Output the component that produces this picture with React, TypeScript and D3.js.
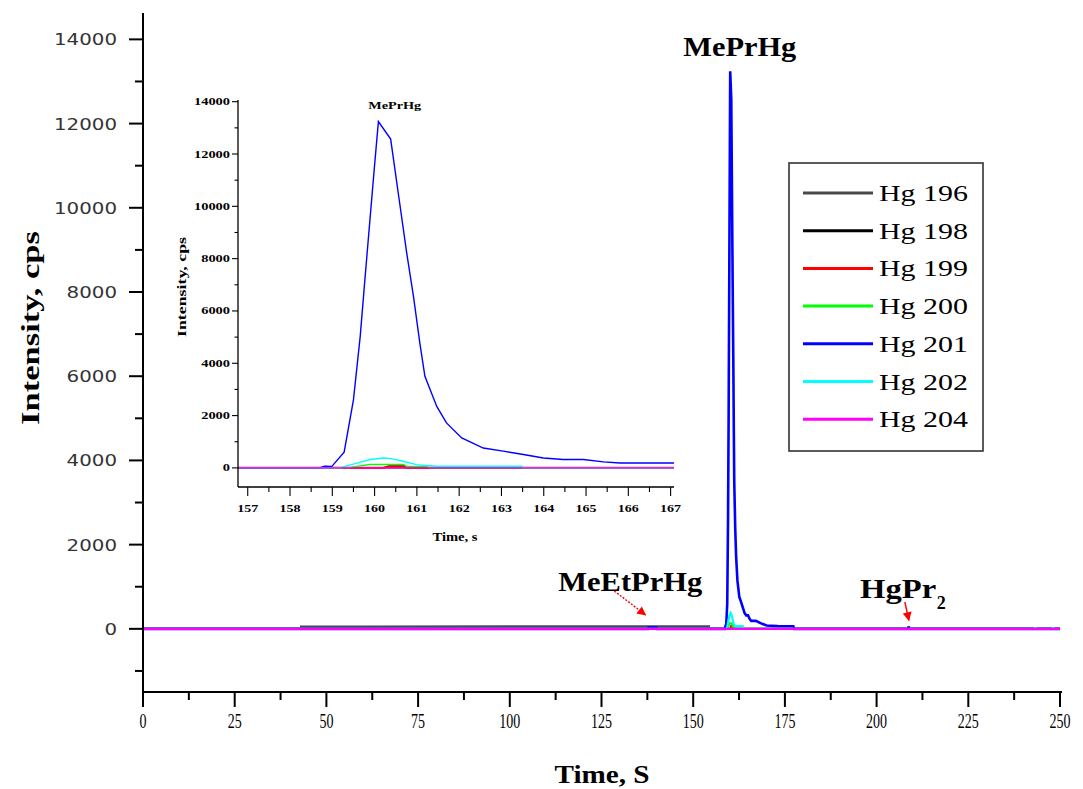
import React, { useRef, useEffect } from "react";
import * as d3 from "d3";

const isotopes = ["Hg 196", "Hg 198", "Hg 199", "Hg 200", "Hg 201", "Hg 202", "Hg 204"];
const colors = ["#4a4a4a", "#000000", "#ff0000", "#00ff00", "#0000ff", "#00ffff", "#ff00ff"];

// [time (s), intensity (cps)]
const hg196 = [[42.8, 55], [60, 55], [119, 60], [138, 60], [154.6, 60]];
const hg198 = [[0, 0], [250, 0]];
const hg199 = [[0, 0], [160.2, 0], [160.29, 40], [160.35, 70], [160.7, 70], [160.75, 0], [250, 0]];
const hg200 = [
  [0, 0], [159.4, 0], [159.5, 40], [159.89, 130], [160.68, 130], [160.76, 60],
  [161.23, 60], [161.3, 0], [250, 0],
];
const hg201 = [
  [0, 0], [137.7, 0], [137.8, 30], [140, 30], [140.1, 0], [158.7, 0], [158.81, 64],
  [158.99, 60], [159.28, 600], [159.5, 2600], [159.66, 5030], [159.77, 7190],
  [159.89, 9480], [159.99, 11390], [160.09, 13240], [160.38, 12570], [160.56, 10500],
  [160.76, 8210], [160.92, 6550], [161.07, 4770], [161.19, 3500], [161.47, 2350],
  [161.7, 1720], [162.06, 1145], [162.57, 760], [163.04, 640], [163.52, 510],
  [163.99, 380], [164.46, 320], [164.94, 320], [165.41, 230], [165.8, 190],
  [167.08, 190], [168.5, 130], [170, 80], [173, 65], [177.3, 60], [177.5, 0],
  [208.6, 0], [208.7, 60], [208.9, 0], [250, 0],
];
const hg202 = [
  [0, 0], [159.2, 0], [159.25, 40], [159.54, 165], [159.89, 320], [160.21, 380],
  [160.4, 355], [160.68, 255], [160.99, 127], [161.23, 90], [161.47, 64], [163.48, 64],
  [163.5, 0], [243.1, 0], [243.2, 40], [243.3, 0], [248, 0], [248.1, 40], [248.2, 0], [250, 0],
];
const hg204 = [[0, 0], [250, 0]];
const series = [hg196, hg198, hg199, hg200, hg201, hg202, hg204];

const mainXTicks = [0, 25, 50, 75, 100, 125, 150, 175, 200, 225, 250];
const mainYTicks = [0, 2000, 4000, 6000, 8000, 10000, 12000, 14000];
const insetXTicks = [157, 158, 159, 160, 161, 162, 163, 164, 165, 166, 167];
const insetYTicks = [0, 2000, 4000, 6000, 8000, 10000, 12000, 14000];

const W = 1083;
const H = 789;

const App = () => {
  const ref = useRef<SVGSVGElement>(null);

  useEffect(() => {
    const svg = d3.select(ref.current);
    svg.selectAll("*").remove();

    const serif = "'Liberation Serif', 'Times New Roman', serif";

    // ---------- main chart ----------
    const x = d3.scaleLinear().domain([0, 250]).range([143, 1060]);
    const y = d3.scaleLinear().domain([-1500, 14650]).range([692, 12]);

    const main = svg.append("g");
    const line = d3
      .line<number[]>()
      .x((d) => x(d[0]))
      .y((d) => y(d[1]));

    series.forEach((s, i) => {
      main
        .append("path")
        .attr("d", line(s))
        .attr("fill", "none")
        .attr("stroke", colors[i])
        .attr("stroke-width", i === 4 ? 2.6 : 2.2);
    });

    // axes lines
    main.append("line").attr("x1", x(0)).attr("x2", x(0)).attr("y1", 13).attr("y2", 707)
      .attr("stroke", "#000").attr("stroke-width", 2);
    main.append("line").attr("x1", x(0)).attr("x2", x(250) + 2).attr("y1", y(-1500)).attr("y2", y(-1500))
      .attr("stroke", "#000").attr("stroke-width", 2);

    // y ticks
    d3.range(-1000, 14001, 1000).forEach((v) => {
      const major = v % 2000 === 0;
      main.append("line").attr("x1", x(0) - (major ? 14 : 8)).attr("x2", x(0))
        .attr("y1", y(v)).attr("y2", y(v)).attr("stroke", "#000").attr("stroke-width", 2);
    });
    mainYTicks.forEach((v) => {
      const t = String(v);
      main.append("text").attr("x", 117).attr("y", y(v) + 6)
        .attr("text-anchor", "end")
        .attr("font-family", "'DejaVu Sans', sans-serif").attr("font-size", 16)
        .attr("fill", "#333")
        .attr("textLength", t.length * 12.6).attr("lengthAdjust", "spacingAndGlyphs")
        .text(t);
    });

    // x ticks
    d3.range(0, 250.1, 12.5).forEach((v) => {
      const major = v % 25 === 0;
      main.append("line").attr("x1", x(v)).attr("x2", x(v))
        .attr("y1", y(-1500)).attr("y2", y(-1500) + (major ? 15 : 8))
        .attr("stroke", "#000").attr("stroke-width", 2);
    });
    mainXTicks.forEach((v) => {
      const t = String(v);
      main.append("text").attr("x", x(v)).attr("y", 728)
        .attr("text-anchor", "middle")
        .attr("font-family", serif).attr("font-size", 20)
        .attr("textLength", t.length * 7).attr("lengthAdjust", "spacingAndGlyphs")
        .text(t);
    });

    main.append("text")
      .attr("transform", `translate(39, 328) rotate(-90)`)
      .attr("text-anchor", "middle")
      .attr("font-family", serif).attr("font-weight", "bold").attr("font-size", 25)
      .attr("textLength", 194).attr("lengthAdjust", "spacingAndGlyphs")
      .text("Intensity, cps");
    main.append("text")
      .attr("x", 602).attr("y", 783)
      .attr("text-anchor", "middle")
      .attr("font-family", serif).attr("font-weight", "bold").attr("font-size", 26)
      .attr("textLength", 95).attr("lengthAdjust", "spacingAndGlyphs")
      .text("Time, S");

    // peak annotations
    const bold = (g: any, tx: number, ty: number, txt: string, size: number, len: number) =>
      g.append("text").attr("x", tx).attr("y", ty)
        .attr("font-family", serif).attr("font-weight", "bold").attr("font-size", size)
        .attr("textLength", len).attr("lengthAdjust", "spacingAndGlyphs").text(txt);

    bold(main, x(147.3), 56, "MePrHg", 27, 113);
    bold(main, x(113.2), 591, "MeEtPrHg", 27, 144);
    bold(main, x(195.5), 598, "HgPr", 27, 76);
    bold(main, x(216.4), 609, "2", 18, 9);

    const defs = svg.append("defs");
    defs.append("marker").attr("id", "arrowRed")
      .attr("viewBox", "0 0 10 10").attr("refX", 9).attr("refY", 5)
      .attr("markerWidth", 10).attr("markerHeight", 9).attr("orient", "auto")
      .attr("markerUnits", "userSpaceOnUse")
      .append("path").attr("d", "M0,0 L10,5 L0,10 z").attr("fill", "#ff0000");

    main.append("line")
      .attr("x1", x(128.5)).attr("y1", 591).attr("x2", x(137)).attr("y2", y(330))
      .attr("stroke", "#ff0000").attr("stroke-width", 1.4).attr("stroke-dasharray", "2,1.5")
      .attr("marker-end", "url(#arrowRed)");
    main.append("line")
      .attr("x1", x(207.7)).attr("y1", 602).attr("x2", x(208.8)).attr("y2", y(200))
      .attr("stroke", "#ff0000").attr("stroke-width", 1.4)
      .attr("marker-end", "url(#arrowRed)");

    // ---------- legend ----------
    const lg = svg.append("g");
    lg.append("rect").attr("x", 789).attr("y", 163).attr("width", 194).attr("height", 288)
      .attr("fill", "#fff").attr("stroke", "#333").attr("stroke-width", 1.6);
    isotopes.forEach((name, i) => {
      const ly = 193 + i * 37.7;
      lg.append("line").attr("x1", 803).attr("x2", 873).attr("y1", ly).attr("y2", ly)
        .attr("stroke", colors[i]).attr("stroke-width", 3);
      lg.append("text").attr("x", 879).attr("y", ly + 8)
        .attr("font-family", serif).attr("font-size", 24)
        .attr("textLength", 89).attr("lengthAdjust", "spacingAndGlyphs")
        .text(name);
    });

    // ---------- inset ----------
    const ix = d3.scaleLinear().domain([156.77, 167.08]).range([238, 674]);
    const iy = d3.scaleLinear().domain([-730, 14000]).range([487, 101.7]);
    const inset = svg.append("g");

    defs.append("clipPath").attr("id", "insetClip")
      .append("rect").attr("x", ix(156.77)).attr("y", 95).attr("width", ix(167.08) - ix(156.77)).attr("height", 392);

    const iline = d3
      .line<number[]>()
      .x((d) => ix(d[0]))
      .y((d) => iy(d[1]));
    const plot = inset.append("g").attr("clip-path", "url(#insetClip)");
    series.forEach((s, i) => {
      plot.append("path").attr("d", iline(s))
        .attr("fill", "none").attr("stroke", colors[i])
        .attr("stroke-width", i === 2 ? 2.2 : 1.4);
    });

    inset.append("line").attr("x1", 238).attr("x2", 238).attr("y1", 100).attr("y2", 487)
      .attr("stroke", "#000").attr("stroke-width", 1.3);
    inset.append("line").attr("x1", 238).attr("x2", 674).attr("y1", 487).attr("y2", 487)
      .attr("stroke", "#000").attr("stroke-width", 1.3);

    d3.range(0, 14001, 1000).forEach((v) => {
      const major = v % 2000 === 0;
      inset.append("line").attr("x1", 238 - (major ? 6 : 3.5)).attr("x2", 238)
        .attr("y1", iy(v)).attr("y2", iy(v)).attr("stroke", "#000").attr("stroke-width", 1.1);
    });
    insetYTicks.forEach((v) => {
      const t = String(v);
      inset.append("text").attr("x", 230).attr("y", iy(v) + 3.5)
        .attr("text-anchor", "end")
        .attr("font-family", serif).attr("font-weight", "bold").attr("font-size", 10)
        .attr("textLength", t.length * 7.2).attr("lengthAdjust", "spacingAndGlyphs")
        .text(t);
    });
    d3.range(157, 167.01, 0.5).forEach((v) => {
      const major = Number.isInteger(v);
      inset.append("line").attr("x1", ix(v)).attr("x2", ix(v))
        .attr("y1", 487).attr("y2", 487 + (major ? 9 : 5))
        .attr("stroke", "#000").attr("stroke-width", 1.1);
    });
    insetXTicks.forEach((v) => {
      const t = String(v);
      inset.append("text").attr("x", ix(v)).attr("y", 512)
        .attr("text-anchor", "middle")
        .attr("font-family", serif).attr("font-weight", "bold").attr("font-size", 11)
        .attr("textLength", t.length * 7).attr("lengthAdjust", "spacingAndGlyphs")
        .text(t);
    });

    inset.append("text")
      .attr("transform", `translate(186, 287) rotate(-90)`)
      .attr("text-anchor", "middle")
      .attr("font-family", serif).attr("font-weight", "bold").attr("font-size", 13)
      .attr("textLength", 100).attr("lengthAdjust", "spacingAndGlyphs")
      .text("Intensity, cps");
    inset.append("text")
      .attr("x", 455).attr("y", 541)
      .attr("text-anchor", "middle")
      .attr("font-family", serif).attr("font-weight", "bold").attr("font-size", 12)
      .attr("textLength", 45).attr("lengthAdjust", "spacingAndGlyphs")
      .text("Time, s");
    bold(inset, ix(159.85), 109, "MePrHg", 11, 53);
  }, []);

  return (
    <svg
      ref={ref}
      width={W}
      height={H}
      style={{ position: "absolute", left: 0, top: 0, background: "#fff" }}
    />
  );
};

export default App;
